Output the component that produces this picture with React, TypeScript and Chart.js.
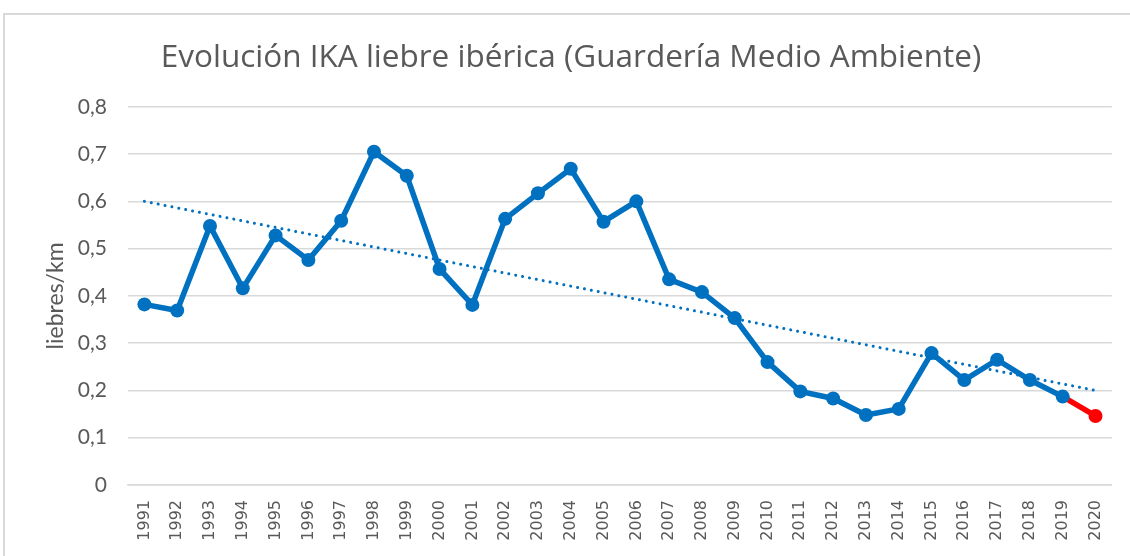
import React, { useEffect, useRef } from "react";
import { Chart, registerables } from "chart.js";

Chart.register(...registerables);

const years = [
  "1991", "1992", "1993", "1994", "1995", "1996", "1997", "1998", "1999", "2000",
  "2001", "2002", "2003", "2004", "2005", "2006", "2007", "2008", "2009", "2010",
  "2011", "2012", "2013", "2014", "2015", "2016", "2017", "2018", "2019", "2020",
];

const ika = [
  0.382, 0.369, 0.548, 0.416, 0.528, 0.476, 0.559, 0.705, 0.654, 0.457,
  0.381, 0.563, 0.617, 0.669, 0.557, 0.600, 0.435, 0.408, 0.353, 0.260,
  0.198, 0.183, 0.148, 0.161, 0.279, 0.222, 0.265, 0.222, 0.187, 0.146,
];

const trendStart = 0.6;
const trendEnd = 0.2;

const yTicks = [0, 0.1, 0.2, 0.3, 0.4, 0.5, 0.6, 0.7, 0.8];

const title = "Evolución IKA liebre ibérica (Guardería Medio Ambiente)";
const yTitle = "liebres/km";

const BLUE = "#0070C0";
const RED = "#FF0000";
const TEXT = "#595959";
const GRID = "#d9d9d9";

export default function App() {
  const ref = useRef<HTMLCanvasElement | null>(null);

  useEffect(() => {
    document.body.style.margin = "0";
    const last = ika.length - 1;
    const trend = years.map((_, i) => (i === 0 ? trendStart : i === last ? trendEnd : null));
    const chart = new Chart(ref.current as HTMLCanvasElement, {
      type: "line",
      data: {
        labels: years,
        datasets: [
          {
            label: "trend",
            data: trend,
            borderColor: BLUE,
            borderWidth: 3,
            borderDash: [0.01, 7],
            borderCapStyle: "round",
            pointRadius: 0,
            spanGaps: true,
            fill: false,
            order: 0,
          },
          {
            label: "IKA",
            data: ika,
            borderColor: BLUE,
            borderWidth: 5.5,
            pointRadius: 7,
            pointBorderWidth: 0,
            pointBackgroundColor: ika.map((_, i) => (i === last ? RED : BLUE)),
            pointBorderColor: ika.map((_, i) => (i === last ? RED : BLUE)),
            segment: {
              borderColor: (ctx: any) => (ctx.p1DataIndex === last ? RED : BLUE),
            },
            tension: 0,
            fill: false,
            order: 1,
          },
        ],
      },
      options: {
        animation: false,
        responsive: false,
        maintainAspectRatio: false,
        layout: { padding: { left: 30, right: 18, top: 0, bottom: 0 } },
        plugins: {
          legend: { display: false },
          tooltip: { enabled: false },
          title: {
            display: true,
            text: title,
            color: TEXT,
            font: { family: "Open Sans", size: 31.5, weight: "normal", lineHeight: 1.2 },
            padding: { top: 39, bottom: 30 },
          },
        },
        scales: {
          x: {
            offset: true,
            grid: { display: false, drawTicks: false },
            border: { display: true, color: GRID, width: 1.5 },
            ticks: {
              color: TEXT,
              font: { family: "DejaVu Sans", size: 16 },
              minRotation: 90,
              maxRotation: 90,
              autoSkip: false,
              padding: 15,
            },
            afterFit: (scale: any) => {
              scale.height = 71;
            },
          },
          y: {
            min: 0,
            max: 0.8,
            afterBuildTicks: (scale: any) => {
              scale.ticks = yTicks.map((v) => ({ value: v }));
            },
            grid: { color: GRID, lineWidth: 1.5, drawTicks: false },
            border: { display: false },
            ticks: {
              color: TEXT,
              font: { family: "Lato", size: 21 },
              padding: 21,
              callback: (v: any) => (Number(v) === 0 ? "0" : Number(v).toFixed(1).replace(".", ",")),
            },
            title: {
              display: true,
              text: yTitle,
              color: TEXT,
              font: { family: "Lato", size: 23 },
              padding: { top: 12, bottom: 0 },
            },
            afterFit: (scale: any) => {
              scale.width = 98;
            },
          },
        },
      },
    });
    return () => chart.destroy();
  }, []);

  return (
    <div style={{ position: "fixed", left: 0, top: 0, width: 1130, height: 556, background: "#fff", overflow: "hidden" }}>
      <div
        style={{
          position: "absolute",
          left: 3,
          top: 13,
          width: 1200,
          height: 600,
          borderTop: `2px solid ${GRID}`,
          borderLeft: `2px solid ${GRID}`,
        }}
      />
      <canvas ref={ref} width={1130} height={556} style={{ position: "absolute", left: 0, top: 0, display: "block" }} />
    </div>
  );
}
